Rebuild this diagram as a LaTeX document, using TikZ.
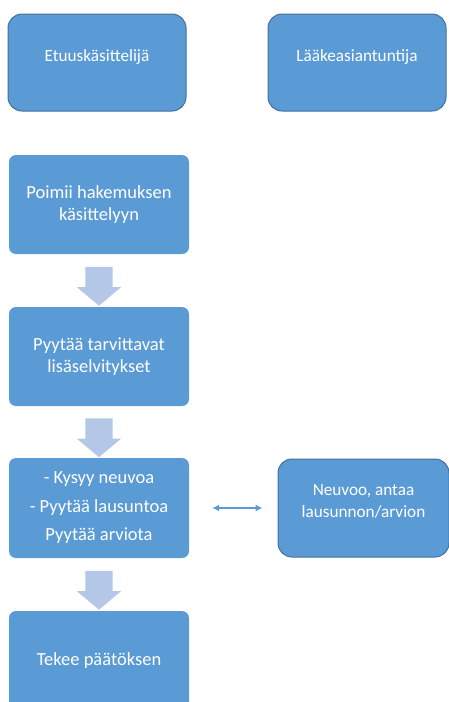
\documentclass[tikz,border=0pt]{standalone}
\usepackage{fontspec}
\setmainfont{Carlito}
\usepackage{tikz}
\usetikzlibrary{calc, arrows, arrows.meta, shapes.arrows}
\definecolor{boxblue}{HTML}{5B9BD5}
\definecolor{boxedge}{HTML}{41719C}
\definecolor{flowblue}{HTML}{B4C7E7}

\begin{document}
\begin{tikzpicture}[>={Latex[length=7pt,width=7pt]}, x=1pt, y=-1pt,
    rolebox/.style={draw=boxedge, line width=1pt, fill=boxblue, rounded corners=14pt,
      text=white, minimum width=178pt, minimum height=97pt, align=center, text depth=14pt,
      font=\fontsize{17.2}{22}\selectfont},
    stepbox/.style={fill=boxblue, rounded corners=7pt, text=white,
      minimum width=180pt, minimum height=99pt, align=center,
      font=\fontsize{18.5}{21.5}\selectfont},
    flowarrow/.style={single arrow, fill=flowblue, draw=none, inner sep=13.5pt,
      minimum height=37pt, single arrow head extend=8.5pt,
      single arrow tip angle=100, shape border rotate=270}]
        \useasboundingbox (0,0) rectangle (448,702);

        % the two roles
        \node[rolebox] (etuus) at (97,62.5) {Etuuskäsittelijä};
        \node[rolebox] (laake) at (357,62.5) {Lääkeasiantuntija};

        % the steps
        \node[stepbox] (poimi) at (99,204.5) {Poimii hakemuksen\\käsittelyyn};
        \node[stepbox] (pyyda) at (99,356.5) {Pyytää tarvittavat\\lisäselvitykset};
        \node[stepbox, minimum height=100pt] (kysy) at (99,508)
          {- Kysyy neuvoa\\[7pt]- Pyytää lausuntoa\\[7pt]Pyytää arviota};
        \node[stepbox] (paatos) at (99,660.5) {Tekee päätöksen};
        \node[rolebox, minimum width=171pt, minimum height=98pt] (neuvoo) at (363.5,508)
          {Neuvoo, antaa\\lausunnon/arvion};

        % the arrows between the steps
        \foreach \a/\b in {poimi/pyyda, pyyda/kysy, kysy/paatos}
          \node[flowarrow] (\a-\b) at ($(\a.south)!0.5!(\b.north)$) {};
        \draw[<->, boxblue, line width=1.2pt] ([xshift=23pt]kysy.east) -- ([xshift=-15pt]neuvoo.west);
\end{tikzpicture}
\end{document}
